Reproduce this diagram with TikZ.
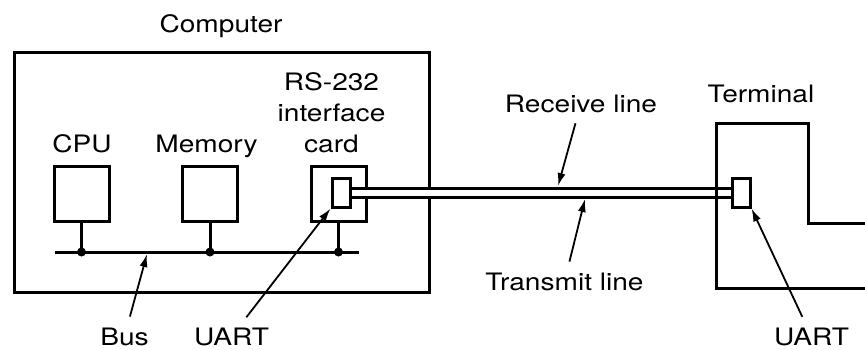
\documentclass[tikz,border=0pt]{standalone}
\usepackage{fontspec}
\setmainfont{TeX Gyre Heros}[FakeStretch=1.17]
\usetikzlibrary{arrows.meta,positioning}

\begin{document}
\begin{tikzpicture}[x=0.5pt,y=-0.5pt,>={Latex[length=6.5pt,width=4pt]},
  every node/.style={font=\fontsize{12}{15.5}\selectfont},
  unit/.style={draw,line width=1.5pt,minimum width=27.5pt,minimum height=27.5pt,inner sep=0pt},
  uart/.style={draw,line width=1.5pt,minimum width=9pt,minimum height=14.5pt,inner sep=0pt},
  wire/.style={line width=1.5pt},
  cable/.style={line width=1.5pt,double=white,double distance=3pt},
  ptr/.style={->,line width=0.9pt,shorten <=2pt},
  lbl/.style={anchor=base}]
\useasboundingbox (0,0) rectangle (865,349);
% computer side
\node[draw,line width=1.5pt,minimum width=207.5pt,minimum height=120pt] (computer) at (221.5,172) {};
\node[unit] (cpu) at (81.5,193.5) {};
\node[unit,right=35.25pt of cpu] (memory) {};
\node[unit,right=35.25pt of memory] (card) {};
\node[uart] (uart1) at (341,192.5) {};
\coordinate (busL) at (55,252);
\coordinate (busR) at (359,252);
\draw[wire] (busL) -- (busR);
\foreach \n in {cpu,memory,card} {
  \draw[wire] (\n.south) -- (\n.south |- busL);
  \fill (\n.south |- busL) circle (4.5);
}
% line and terminal
\node[uart] (uart2) at (741,192.5) {};
\draw[cable] (uart1.east) -- (uart2.west);
\draw[wire] (866,223) -| (808,123) -| (716,288) -- (866,288);
% labels
\node[lbl] (complbl) at (221,32) {Computer};
\node[lbl] (cpulbl) at (82,152) {CPU};
\node[lbl] (memlbl) at (206.5,152) {Memory};
\node[lbl,align=center] (cardlbl) at (331.5,152) {RS-232\\interface\\card};
\node[lbl] (termlbl) at (761,102) {Terminal};
\node[lbl] (rxlbl) at (581,112) {Receive line};
\node[lbl] (txlbl) at (564.5,290) {Transmit line};
\node[lbl] (buslbl) at (124.5,345) {Bus};
\node[lbl] (uartlbl1) at (231.5,345) {UART};
\node[lbl] (uartlbl2) at (811.5,345) {UART};
% pointers
\coordinate (bustip) at (147,254);
\coordinate (rxtip) at (558,186);
\coordinate (txtip) at (585,199);
\draw[ptr] (buslbl) -- (bustip);
\draw[ptr] (uartlbl1) -- (uart1.south west);
\draw[ptr] (uartlbl2) -- (uart2.south east);
\draw[ptr] (rxlbl) -- (rxtip);
\draw[ptr] (txlbl) -- (txtip);
\end{tikzpicture}
\end{document}
